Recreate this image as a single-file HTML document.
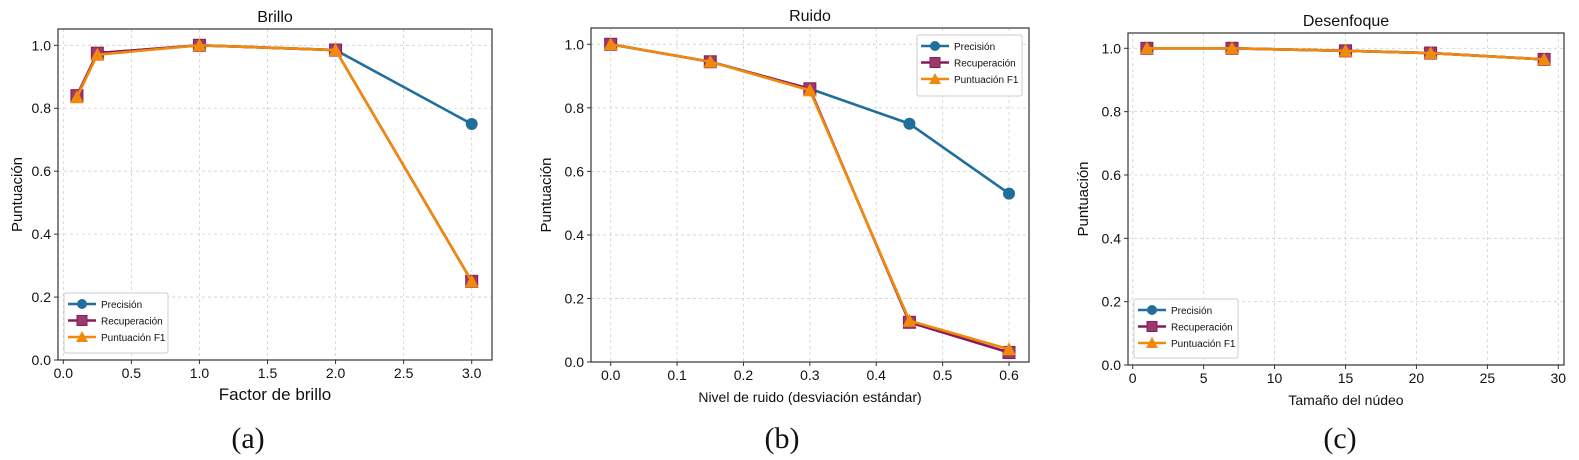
<!DOCTYPE html>
<html><head><meta charset="utf-8">
<style>
html,body{margin:0;padding:0;background:#fff;}
svg{display:block;font-family:"Liberation Sans","DejaVu Sans",sans-serif;}
</style></head>
<body>
<svg id="fig" width="1579" height="460" viewBox="0 0 1579 460" xmlns="http://www.w3.org/2000/svg"></svg>
<script>
// Panel (a) Brillo
const xA = [0.1, 0.25, 1, 2, 3];
const precA = [0.84, 0.975, 1.0, 0.985, 0.75];
const recA = [0.84, 0.975, 1.0, 0.985, 0.25];
const f1A = [0.835, 0.97, 1.0, 0.985, 0.25];
const xTicksA = [0, 0.5, 1, 1.5, 2, 2.5, 3];
const xTickLabelsA = ["0.0","0.5","1.0","1.5","2.0","2.5","3.0"];
// Panel (b) Ruido
const xB = [0, 0.15, 0.3, 0.45, 0.6];
const precB = [1.0, 0.945, 0.86, 0.75, 0.53];
const recB = [1.0, 0.945, 0.86, 0.125, 0.03];
const f1B = [1.0, 0.945, 0.855, 0.13, 0.04];
const xTicksB = [0, 0.1, 0.2, 0.3, 0.4, 0.5, 0.6];
const xTickLabelsB = ["0.0","0.1","0.2","0.3","0.4","0.5","0.6"];
// Panel (c) Desenfoque
const xC = [1, 7, 15, 21, 29];
const precC = [1.0, 1.0, 0.992, 0.985, 0.965];
const recC = [1.0, 1.0, 0.992, 0.985, 0.965];
const f1C = [1.0, 1.0, 0.992, 0.985, 0.965];
const xTicksC = [0, 5, 10, 15, 20, 25, 30];
const xTickLabelsC = ["0","5","10","15","20","25","30"];
const yTicks = [0, 0.2, 0.4, 0.6, 0.8, 1.0];
const yTickLabels = ["0.0","0.2","0.4","0.6","0.8","1.0"];
const seriesNames = ["Precisión","Recuperación","Puntuación F1"];

const NS = "http://www.w3.org/2000/svg";
const svg = document.getElementById("fig");
function mk(tag, attrs, parent){
  const e = document.createElementNS(NS, tag);
  for (const k in attrs) e.setAttribute(k, attrs[k]);
  (parent||svg).appendChild(e);
  return e;
}
const COLORS = ["#1f6e9c","#8b1a5a","#f08a0c"];

function panel(cfg){
  const g = mk("g", {});
  
  
  const sx = v => cfg.x0 + (v - cfg.xmin) / (cfg.xmax - cfg.xmin) * (cfg.x1 - cfg.x0);
  const sy = v => cfg.y0 + (v) * (cfg.y1 - cfg.y0);
  cfg.xTicks.forEach((t, i) => {
    const gl = mk("line", {x1:sx(t), x2:sx(t), y1:cfg.top, y2:cfg.bottom, stroke:"#d0d0d0", "stroke-width":0.8, "stroke-dasharray":"3,3"}, g);
    
    
    mk("line", {x1:sx(t), x2:sx(t), y1:cfg.bottom, y2:cfg.bottom+4, stroke:"#333", "stroke-width":1}, g);
    const tl = mk("text", {x:sx(t), y:cfg.bottom+18, "text-anchor":"middle", "font-size":14, fill:"#111"}, g);
    tl.textContent = cfg.xTickLabels[i];
    
    
  });
  yTicks.forEach((t, i) => {
    const gl = mk("line", {x1:cfg.left, x2:cfg.right, y1:sy(t), y2:sy(t), stroke:"#d0d0d0", "stroke-width":0.8, "stroke-dasharray":"3,3"}, g);
    
    
    mk("line", {x1:cfg.left-4, x2:cfg.left, y1:sy(t), y2:sy(t), stroke:"#333", "stroke-width":1}, g);
    const tl = mk("text", {x:cfg.left-7, y:sy(t)+5, "text-anchor":"end", "font-size":14, fill:"#111"}, g);
    tl.textContent = yTickLabels[i];
    
    
  });
  const fr = mk("rect", {x:cfg.left, y:cfg.top, width:cfg.right-cfg.left, height:cfg.bottom-cfg.top, fill:"none", stroke:"#333", "stroke-width":1.2}, g);
  
  
  const all = [cfg.prec, cfg.rec, cfg.f1];
  all.forEach((vals, si) => {
    const pts = cfg.xs.map((x, i) => sx(x) + "," + sy(vals[i])).join(" ");
    const pl = mk("polyline", {points:pts, fill:"none", stroke:COLORS[si], "stroke-width":2.6}, g);
    
    
    cfg.xs.forEach((x, i) => {
      const cx = sx(x), cy = sy(vals[i]);
      let m;
      if (si === 0) m = mk("circle", {cx:cx, cy:cy, r:6, fill:COLORS[0]}, g);
      else if (si === 1) m = mk("rect", {x:cx-6, y:cy-6, width:12, height:12, fill:"#9a3a6e", stroke:COLORS[1], "stroke-width":1}, g);
      else m = mk("polygon", {points:`${cx},${cy-7} ${cx+7},${cy+6} ${cx-7},${cy+6}`, fill:COLORS[2]}, g);
      
      
    });
  });
  const tt = mk("text", {x:(cfg.left+cfg.right)/2, y:cfg.top-7, "text-anchor":"middle", "font-size":16, fill:"#111"}, g);
  tt.textContent = cfg.title;
  
  
  const xl = mk("text", {x:(cfg.left+cfg.right)/2, y:cfg.bottom+40, "text-anchor":"middle", "font-size":cfg.xlabelSize, fill:"#111"}, g);
  xl.textContent = cfg.xlabel;
  
  
  const yl = mk("text", {x:0, y:0, "text-anchor":"middle", "font-size":15, fill:"#111", transform:`translate(${cfg.ylabelX},${(cfg.top+cfg.bottom)/2}) rotate(-90)`}, g);
  yl.textContent = "Puntuación";
  
  
  const L = cfg.legend;
  const lg = mk("g", {}, g);
  
  
  mk("rect", {x:L.x, y:L.y, width:L.w, height:L.h, fill:"#fff", stroke:"#ccc", "stroke-width":1, rx:2}, lg);
  seriesNames.forEach((n, si) => {
    const yy = L.y + 11 + si * 16.5;
    const le = mk("g", {}, lg);
    
    
    mk("line", {x1:L.x+4, x2:L.x+32, y1:yy, y2:yy, stroke:COLORS[si], "stroke-width":2.4}, le);
    const cx = L.x+18;
    if (si === 0) mk("circle", {cx:cx, cy:yy, r:5, fill:COLORS[0]}, le);
    else if (si === 1) mk("rect", {x:cx-5, y:yy-5, width:10, height:10, fill:"#9a3a6e", stroke:COLORS[1]}, le);
    else mk("polygon", {points:`${cx},${yy-6} ${cx+6},${yy+5} ${cx-6},${yy+5}`, fill:COLORS[2]}, le);
    const t = mk("text", {x:L.x+37, y:yy+4, "font-size":10, fill:"#111"}, le);
    t.textContent = n;
  });
  const cap = mk("text", {x:cfg.capX, y:448, "text-anchor":"middle", "font-size":30, "font-family":"'Liberation Serif',serif", fill:"#111"}, g);
  cap.textContent = cfg.caption;
  
  
}

panel({name:"chart-brillo", title:"Brillo", xlabel:"Factor de brillo", xlabelSize:17, caption:"(a)", capX:248,
  left:58, right:492, top:29, bottom:360, x0:63.3, x1:471.7, xmin:0, xmax:3, y0:360, y1:45.3,
  xs:xA, prec:precA, rec:recA, f1:f1A, xTicks:xTicksA, xTickLabels:xTickLabelsA, ylabelX:22,
  legend:{x:64, y:293, w:104, h:60}});
panel({name:"chart-ruido", title:"Ruido", xlabel:"Nivel de ruido (desviación estándar)", xlabelSize:14, caption:"(b)", capX:782,
  left:591, right:1029, top:28, bottom:362, x0:610.7, x1:1009, xmin:0, xmax:0.6, y0:362, y1:44.3,
  xs:xB, prec:precB, rec:recB, f1:f1B, xTicks:xTicksB, xTickLabels:xTickLabelsB, ylabelX:551,
  legend:{x:917, y:35, w:105, h:61}});
panel({name:"chart-desenfoque", title:"Desenfoque", xlabel:"Tamaño del núdeo", xlabelSize:14, caption:"(c)", capX:1340,
  left:1128, right:1564, top:33, bottom:365, x0:1132.7, x1:1558.3, xmin:0, xmax:30, y0:365, y1:48.3,
  xs:xC, prec:precC, rec:recC, f1:f1C, xTicks:xTicksC, xTickLabels:xTickLabelsC, ylabelX:1088,
  legend:{x:1134, y:299, w:104, h:59}});
</script>
</body></html>
